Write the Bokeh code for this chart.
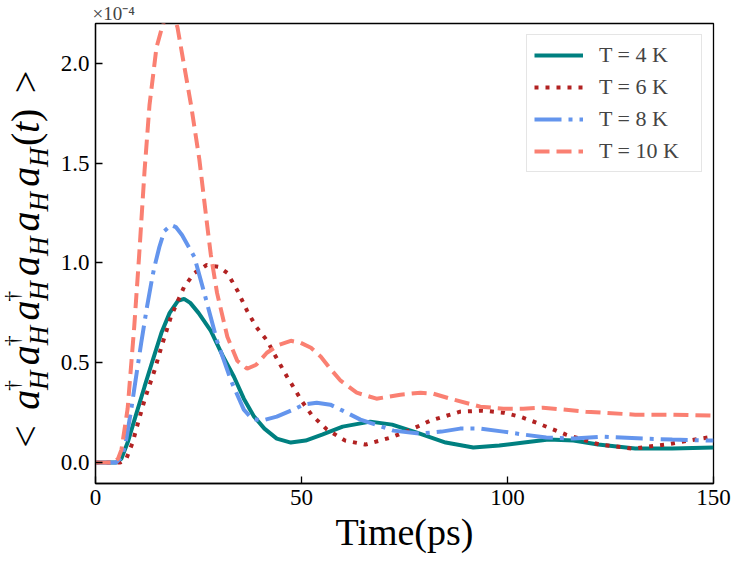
import math
from bokeh.plotting import figure
from bokeh.layouts import row
from bokeh.models import (Label, Legend, LegendItem, FixedTicker,
                          PrintfTickFormatter, Range1d)
from bokeh.embed import file_html
from bokeh.resources import INLINE

# ---------------- data (values in units of 1e-4) ----------------
t_4K = [0, 5, 6.3, 7.8, 9.4, 11.9, 14, 16, 18, 20, 21.5, 23, 25, 28, 31, 33.6,
        36, 38.5, 41, 44, 47.4, 51, 55, 60, 66.7, 72, 78, 85, 91.7, 98, 104,
        110, 116, 122, 131, 140, 150]
v_4K = [0, 0, 0.02, 0.10, 0.21, 0.38, 0.52, 0.65, 0.75, 0.81, 0.82, 0.80, 0.75,
        0.66, 0.53, 0.43, 0.32, 0.23, 0.17, 0.12, 0.10, 0.11, 0.14, 0.18, 0.205,
        0.19, 0.15, 0.10, 0.075, 0.085, 0.10, 0.115, 0.11, 0.09, 0.07, 0.07, 0.075]

t_6K = [0, 6, 7.5, 9, 10.2, 12, 14.3, 16, 18.3, 20, 21.5, 24, 27, 30, 32, 34.5,
        36.8, 39, 41.7, 43.5, 46.5, 48, 50, 52.4, 56.2, 60.6, 65.5, 71.6, 76,
        81.3, 88.5, 94, 99, 103, 107, 114.2, 122.4, 130.4, 138.4, 144, 150]
v_6K = [0, 0, 0.02, 0.10, 0.19, 0.32, 0.46, 0.58, 0.73, 0.81, 0.88, 0.95, 0.99,
        0.98, 0.95, 0.86, 0.76, 0.68, 0.61, 0.54, 0.43, 0.38, 0.31, 0.24, 0.165,
        0.11, 0.09, 0.125, 0.16, 0.21, 0.255, 0.26, 0.25, 0.23, 0.20, 0.14, 0.09,
        0.07, 0.09, 0.11, 0.13]

t_8K = [0, 5, 6.5, 7.5, 8.7, 10, 11.1, 12.5, 13.8, 14.3, 15.5, 16.7, 18.4, 19.5,
        21, 23.2, 24, 26.4, 29.5, 32.9, 36, 38, 40.4, 44, 48, 50.5, 53.7, 57, 60,
        64.3, 68, 72.3, 78.9, 84, 88.5, 93.4, 99, 104, 109.4, 116, 123, 132.8,
        140, 150]
v_8K = [0, 0, 0.03, 0.12, 0.27, 0.45, 0.60, 0.78, 0.93, 0.98, 1.08, 1.16, 1.19,
        1.18, 1.14, 1.06, 1.03, 0.85, 0.61, 0.41, 0.265, 0.22, 0.21, 0.23, 0.265,
        0.29, 0.30, 0.29, 0.26, 0.215, 0.19, 0.16, 0.145, 0.155, 0.17, 0.17, 0.155,
        0.14, 0.125, 0.12, 0.13, 0.12, 0.115, 0.11]

t_10K = [0, 4.5, 5.5, 6.3, 7.8, 9.4, 10.6, 11.9, 13.1, 14.8, 16, 18, 19.9, 21,
         23.2, 25.2, 27.1, 28, 29.5, 32, 34.4, 36.8, 39, 41.6, 44.5, 47.4, 49.8,
         52.3, 54.7, 57, 59.5, 63.4, 68.2, 74, 78.9, 82, 86.1, 93.4, 99, 103.8,
         108.6, 119, 131, 140, 150]
v_10K = [0, 0, 0.02, 0.065, 0.27, 0.68, 1.04, 1.46, 1.79, 2.08, 2.17, 2.30, 2.18,
         2.05, 1.79, 1.52, 1.19, 1.04, 0.85, 0.63, 0.51, 0.47, 0.49, 0.55, 0.59,
         0.61, 0.60, 0.575, 0.53, 0.47, 0.41, 0.35, 0.32, 0.34, 0.35, 0.345, 0.32,
         0.28, 0.27, 0.27, 0.275, 0.255, 0.24, 0.24, 0.235]

series_labels = ["T = 4 K", "T = 6 K", "T = 8 K", "T = 10 K"]
x_ticks = [0, 50, 100, 150]
y_ticks = [0.0, 0.5, 1.0, 1.5, 2.0]
x_title = "Time(ps)"
offset_text = "×10⁻⁴"

SERIF = "Liberation Serif"
W, H = 732, 556
LW = 57            # width of the strip that holds the rotated y label

# ---------------- main figure ----------------
p = figure(width=W - LW, height=H, output_backend="svg", toolbar_location=None,
           x_range=Range1d(0, 150), y_range=Range1d(-0.105, 2.2),
           min_border_left=36, min_border_right=19, min_border_top=21,
           min_border_bottom=73, title=offset_text)
p.background_fill_color = "white"
p.border_fill_color = "white"
p.outline_line_color = "black"
p.outline_line_width = 1.3
p.xgrid.grid_line_color = None
p.ygrid.grid_line_color = None

p.title.text_font = SERIF
p.title.text_font_size = "19px"
p.title.text_font_style = "normal"
p.title.standoff = 0
p.title.offset = -3
p.title.align = "left"

p.xaxis.ticker = FixedTicker(ticks=x_ticks)
p.yaxis.ticker = FixedTicker(ticks=y_ticks)
p.yaxis.formatter = PrintfTickFormatter(format="%.1f")
for ax in (p.xaxis, p.yaxis):
    ax.axis_line_width = 1.3
    ax.major_tick_line_width = 1.3
    ax.major_tick_in = 7
    ax.major_tick_out = 0
    ax.minor_tick_in = 0
    ax.minor_tick_out = 0
    ax.major_label_standoff = 6
    ax.major_label_text_font = SERIF
    ax.major_label_text_font_size = "23px"
    ax.major_label_text_color = "black"

p.xaxis.axis_label = x_title
p.xaxis.axis_label_text_font = SERIF
p.xaxis.axis_label_text_font_size = "38px"
p.xaxis.axis_label_text_font_style = "normal"
p.xaxis.axis_label_text_color = "black"
p.xaxis.axis_label_standoff = 3

styles = [
    (t_4K, v_4K, "#008080", "solid"),
    (t_6K, v_6K, "#B22222", "4 7"),
    (t_8K, v_8K, "#6495ED", "27 7 4 7"),
    (t_10K, v_10K, "#FA8072", "15 7"),
]
items = []
for (tx, vy, col, dash), lab in zip(styles, series_labels):
    r = p.line(tx, vy, line_color=col, line_width=4, line_dash=dash)
    items.append(LegendItem(label=lab, renderers=[r]))

legend = Legend(items=items, location="top_right", margin=11,
                label_text_font=SERIF, label_text_font_size="22px",
                glyph_width=49, glyph_height=24, label_height=24,
                label_standoff=16, spacing=6, padding=7, label_width=95,
                border_line_color="#cccccc", border_line_width=1,
                background_fill_alpha=0.8)
p.add_layout(legend)

# ---------------- strip with the rotated y-axis label ----------------
# its frame is aligned with the main frame (reference pixels 29..491 vertically),
# and its data coordinates are the pixels of the reference picture
q = figure(width=LW, height=H, output_backend="svg", toolbar_location=None,
           x_range=Range1d(8, 8 + LW), y_range=Range1d(491, 29),
           x_axis_location=None, y_axis_location=None,
           min_border=0, min_border_left=0, min_border_right=0,
           min_border_top=0, min_border_bottom=0)
q.outline_line_color = None
q.xgrid.grid_line_color = None
q.ygrid.grid_line_color = None
q.background_fill_color = "white"
q.border_fill_color = "white"


def lab(X, Y, text, size, italic=False):
    # X = baseline column, Y = start of the text (reference page pixels)
    mid = X - 0.4275 * size
    q.add_layout(Label(x=mid, y=Y, x_units="data", y_units="data",
                       text=text, angle=math.pi / 2, text_align="left",
                       text_baseline="middle", text_font=SERIF,
                       text_font_size=f"{size}px",
                       text_font_style="italic" if italic else "normal",
                       text_color="black"))


# < a†H a†H a†H aH aH aH(t) >  (reads bottom to top)
BASE, SUB, SUP = 50, 58, 28
lab(BASE, 455, "<", 40)
period = 44.8
a_start = 417
for k in range(6):
    ys = a_start - period * k
    lab(BASE, ys, "a", 40, italic=True)
    lab(SUB, ys - 20, "H", 27, italic=True)
    if k < 3:
        lab(SUP, ys - 19, "†", 22)
end_h = a_start - period * 5 - 41
lab(BASE, end_h, "(", 40)
lab(BASE, end_h - 13, "t", 40, italic=True)
lab(BASE, end_h - 24, ")", 40)
lab(BASE, 99, ">", 40)

layout = row(q, p)
open("out.html", "w").write(file_html(layout, INLINE))
